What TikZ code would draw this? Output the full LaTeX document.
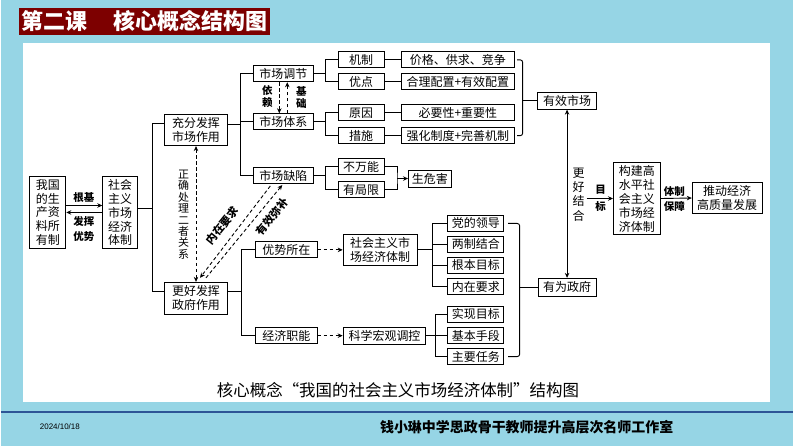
\documentclass[tikz,border=0pt]{standalone}
\usepackage{fontspec}
\setmainfont{Liberation Sans}
\newfontfamily\cjk{Noto Sans CJK SC}
\usetikzlibrary{arrows.meta}
\definecolor{bgblue}{RGB}{150,213,229}
\definecolor{titlered}{RGB}{125,0,0}
\definecolor{linecol}{RGB}{45,85,150}

\begin{document}
\begin{tikzpicture}[x=1pt,y=-1pt,line width=0.9pt,
  >={Stealth[length=5pt,width=4.5pt]},
  box/.style={draw,inner sep=0pt,minimum width=#1,minimum height=16pt,align=center,
    font=\cjk\fontsize{12}{14}\selectfont},
  box/.default=46pt,
  lbl/.style={inner sep=0pt,align=center,font=\cjk\bfseries\fontsize{10.5}{#1}\selectfont},
  lbl/.default=13pt,
  vtxt/.style={inner sep=0pt,align=center,font=\cjk\fontsize{11}{#1}\selectfont},
  vtxt/.default=11.5pt,
  dsh/.style={dash pattern=on 3.5pt off 2.5pt}]
  \fill[bgblue] (0,0) rectangle (794,447);
  \fill[white] (22,43) rectangle (771,403);
  \fill[titlered] (18,8) rectangle (270,35);
  \node[anchor=west,inner sep=0pt,text=white,font=\cjk\bfseries\fontsize{22}{22}\selectfont] (title) at (20,21.5) {第二课\hspace{1.2em}核心概念结构图};
  \draw[linecol,line width=2pt] (0,413) -- (794,413);
  \node[font=\fontsize{8}{8}\selectfont] (date) at (59,428) {2024/10/18};
  \node[font=\cjk\bfseries\fontsize{14}{14}\selectfont] (studio) at (527,428) {钱小琳中学思政骨干教师提升高层次名师工作室};
  \node[font=\cjk\fontsize{16.5}{16.5}\selectfont] (caption) at (398,391) {核心概念“我国的社会主义市场经济体制”结构图};

  % left part
  \node[box=36pt,minimum height=72pt] (suoyouzhi) at (47,213) {我国\\的生\\产资\\料所\\有制};
  \node[box=35pt,minimum height=72pt] (tizhi) at (119.5,213) {社会\\主义\\市场\\经济\\体制};
  \node[box=63pt,minimum height=31pt] (chongfen) at (195.5,130.5) {充分发挥\\市场作用};
  \node[box=64pt,minimum height=32pt] (genghao) at (195.5,299) {更好发挥\\政府作用};
  \draw[->] ([yshift=7pt]suoyouzhi.east) -- ([yshift=7pt]tizhi.west);
  \draw[->] (tizhi.west) -- (suoyouzhi.east);
  \node[lbl] (genji) at (83,198) {根基};
  \node[lbl=15pt] (fahui) at (83,229.5) {发挥\\优势};
  \coordinate (m0) at (152,209);
  \draw ([yshift=4pt]tizhi.east) -- (m0);
  \draw ([yshift=7pt]chongfen.west) -| (m0) |- ([yshift=7pt]genghao.west);
  \draw[dsh,<->] (chongfen.south) -- (genghao.north);
  \node[vtxt] (zhengque) at (183,215) {正\\确\\处\\理\\二\\者\\关\\系};

  % market
  \node[box=60pt] (tiaojie) at (283,74) {市场调节};
  \node[box=60pt] (tixi) at (283,122) {市场体系};
  \node[box=60pt] (quexian) at (283,176) {市场缺陷};
  \node[box] (jizhi) at (361,60) {机制};
  \node[box] (youdian) at (361,82) {优点};
  \node[box] (yuanyin) at (361,113) {原因};
  \node[box] (cuoshi) at (361,136) {措施};
  \node[box=114pt] (jiage) at (458,60) {价格、供求、竞争};
  \node[box=114pt] (peizhi) at (458,82) {合理配置+有效配置};
  \node[box=114pt] (biyao) at (458,113) {必要性+重要性};
  \node[box=114pt] (qianghua) at (458,136) {强化制度+完善机制};
  \node[box] (buwanneng) at (361,167) {不万能};
  \node[box] (youjuxian) at (361,190) {有局限};
  \node[box=43pt,minimum height=17pt] (weihai) at (430,179) {生危害};
  \node[box=59pt,minimum height=17pt] (youxiao) at (567.5,101) {有效市场};

  \coordinate (m1) at (240,124.5);
  \draw ([yshift=6pt]chongfen.east) -- (m1);
  \draw (tiaojie.west) -| (m1) |- (quexian.west);
  \draw (tixi.west) -- (tixi.west -| m1);
  \draw[dsh,->] ([xshift=-4pt]tiaojie.south) -- ([xshift=-4pt]tixi.north);
  \draw[dsh,->] ([xshift=4pt]tixi.north) -- ([xshift=4pt]tiaojie.south);
  \node[lbl=12pt] (yilai) at (267,97) {依\\赖};
  \node[lbl=12pt] (jichu) at (301,97.5) {基\\础};
  \coordinate (s1) at (325,74);
  \coordinate (s2) at (325,122);
  \coordinate (s3) at (325,176);
  \draw (tiaojie.east) -- (s1);
  \draw (jizhi.west) -| (s1) |- (youdian.west);
  \draw (tixi.east) -- (s2);
  \draw (yuanyin.west) -| (s2) |- (cuoshi.west);
  \draw (quexian.east) -- (s3);
  \draw (buwanneng.west) -| (s3) |- (youjuxian.west);
  \draw (jizhi) -- (jiage);
  \draw (youdian) -- (peizhi);
  \draw (yuanyin) -- (biyao);
  \draw (cuoshi) -- (qianghua);
  \coordinate (w1) at (397,179);
  \draw (buwanneng.east) -| (w1) |- (youjuxian.east);
  \draw[->] (w1) -- (weihai.west);
  \coordinate (bm) at (523,101);
  \draw[rounded corners=2.5pt] ([xshift=2pt]jiage.east) -| (bm) |- ([xshift=2pt]qianghua.east);
  \draw (bm) -- (youxiao.west);

  % government
  \node[box=62pt] (youshi) at (286,250.5) {优势所在};
  \node[box=62pt] (zhineng) at (286,336.5) {经济职能};
  \node[box=74pt,minimum height=31pt] (shizhi) at (380,250.5) {社会主义市\\场经济体制};
  \node[box=83pt,minimum height=17pt] (hongguan) at (384.5,336.5) {科学宏观调控};
  \node[box=56pt] (dang) at (476,224) {党的领导};
  \node[box=56pt] (liangzhi) at (476,245) {两制结合};
  \node[box=56pt] (genben) at (476,266) {根本目标};
  \node[box=56pt] (neizai) at (476,287.5) {内在要求};
  \node[box=56pt] (shixian) at (476,315) {实现目标};
  \node[box=56pt] (jiben) at (476,336.5) {基本手段};
  \node[box=56pt] (zhuyao) at (476,357.5) {主要任务};
  \node[box=58pt,minimum height=18pt] (youwei) at (567.5,288) {有为政府};

  \coordinate (g1) at (241,292);
  \draw ([yshift=7pt]genghao.east) -- (g1);
  \draw (youshi.west) -| (g1) |- (zhineng.west);
  \draw[dsh,->] (youshi) -- (shizhi);
  \draw[dsh,->] (zhineng) -- (hongguan);
  \coordinate (g2) at (433,250.5);
  \draw (shizhi.east) -- (g2);
  \draw (dang.west) -| (g2) |- (neizai.west);
  \draw (liangzhi.west) -- (liangzhi.west -| g2);
  \draw (genben.west) -- (genben.west -| g2);
  \coordinate (g3) at (436,336.5);
  \draw (hongguan.east) -- (g3);
  \draw (shixian.west) -| (g3) |- (zhuyao.west);
  \draw (jiben.west) -- (g3);
  \coordinate (bg) at (520,288);
  \draw[rounded corners=2.5pt] ([xshift=4pt]dang.east) -| (bg) |- ([xshift=4pt]zhuyao.east);
  \draw (bg) -- (youwei.west);

  % market failure and government
  \draw[dsh,->] ([xshift=-13pt,yshift=-2pt]quexian.south) -- ([xshift=4pt,yshift=4pt]genghao.north);
  \draw[dsh,->] ([xshift=10pt,yshift=4pt]genghao.north) -- ([xshift=-1pt,yshift=-1pt]quexian.south);
  \node[lbl,font=\cjk\bfseries\fontsize{11}{13}\selectfont,rotate=51] (neizaiyq) at (222,226) {内在要求};
  \node[lbl,font=\cjk\bfseries\fontsize{11}{13}\selectfont,rotate=51] (youxiaomb) at (272,217) {有效弥补};

  % right part
  \node[box=47pt,minimum height=72pt] (goujian) at (637.5,199) {构建高\\水平社\\会主义\\市场经\\济体制};
  \node[box=70pt,minimum height=31pt] (tuidong) at (728,198.5) {推动经济\\高质量发展};
  \draw[<->] (youxiao.south) -- (youwei.north);
  \node[vtxt=14.5pt,font=\cjk\fontsize{12}{14.5}\selectfont] (jiehe) at (579,195) {更\\好\\结\\合};
  \coordinate (mb) at (587,199);
  \draw[->] (mb) -- (goujian.west);
  \node[lbl=17pt] (mubiao) at (601,198.5) {目\\标};
  \draw[->] (goujian.east) -- (tuidong.west);
  \node[lbl=15pt] (baozhang) at (675,199.5) {体制\\保障};
\end{tikzpicture}
\end{document}
